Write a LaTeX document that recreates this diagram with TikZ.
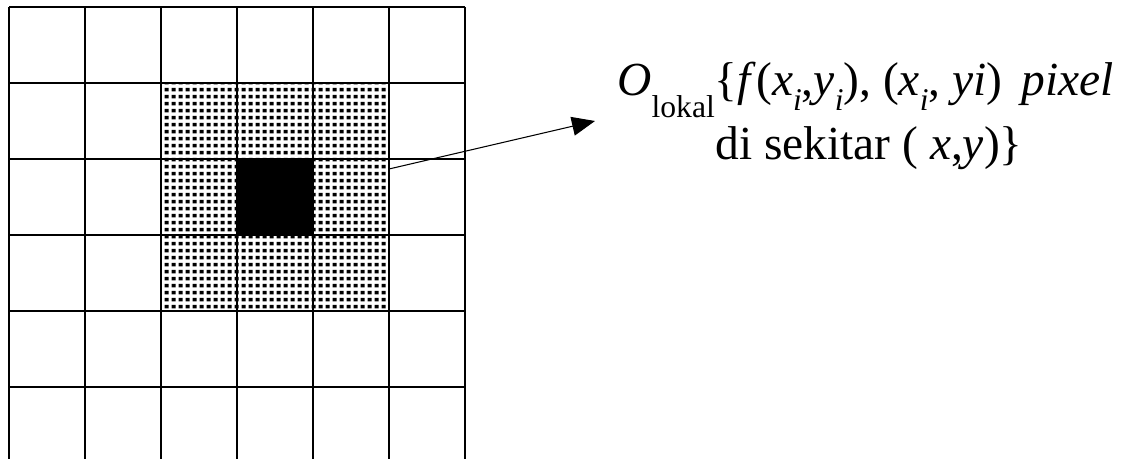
\documentclass[tikz,border=0pt]{standalone}
\usepackage{fontspec}
\setmainfont{Liberation Serif}
\usetikzlibrary{arrows.meta, patterns}
\pgfdeclarepatternformonly{densedots}{\pgfqpoint{0pt}{0pt}}{\pgfqpoint{3.9pt}{3.7pt}}{\pgfqpoint{3.9pt}{3.7pt}}{%
  \pgfpathrectangle{\pgfqpoint{0.4pt}{0.4pt}}{\pgfqpoint{2.3pt}{2.1pt}}\pgfusepath{fill}}
\newcommand{\lowsub}[2][8pt]{\raisebox{-#1}{\fontsize{18}{18}\selectfont #2}}

\begin{document}
\begin{tikzpicture}[x=0.02cm, y=-0.02cm,
  gridline/.style={draw, line width=0.7pt},
  nbhd/.style={pattern=densedots},
  core/.style={fill=black},
  lbl/.style={inner sep=0pt, anchor=base west, font=\fontsize{27}{32}\selectfont},
  pointer/.style={-{Triangle[length=0.46cm, width=0.38cm]}, line width=0.6pt}
]
\useasboundingbox (0,0) rectangle (1137,459);
\clip (0,0) rectangle (1137,459);

\fill[nbhd] (161,83) rectangle (389,311);
\fill[core] (237,159) rectangle (313,235);

\foreach \i in {0,...,6}
  \draw[gridline] (9+76*\i,7) -- (9+76*\i,459);
\foreach \j in {0,...,5}
  \draw[gridline] (9,7+76*\j) -- (465,7+76*\j);

\node[lbl] (lokal) at (617,96) {\textit{O}\lowsub[12pt]{lokal}\{\textit{f}(\textit{x}\lowsub{\textit{i}},\textit{y}\lowsub{\textit{i}}), (\textit{x}\lowsub{\textit{i}}, \textit{yi})\hspace{0.4em}\textit{pixel}};
\node[lbl] (sekitar) at (715,160) {di sekitar ( \textit{x},\textit{y})\}};

\coordinate (src) at (389,169);
\coordinate (tip) at (595,121);
\draw[pointer] (src) -- (tip);

\end{tikzpicture}
\end{document}
